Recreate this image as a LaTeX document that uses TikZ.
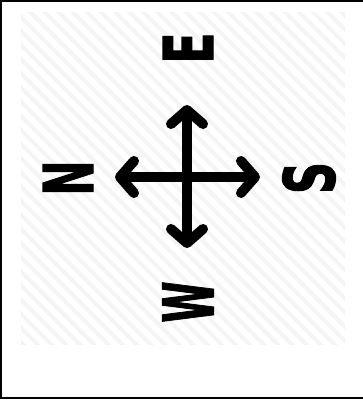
\documentclass[tikz,border=0pt]{standalone}
\usepackage{fontspec}
\setmainfont{DejaVu Sans}
\newfontfamily\heavyfont{DejaVu Sans Bold}[FakeBold=2]
\usepackage{graphicx}
\usetikzlibrary{arrows.meta,patterns.meta}

\begin{document}
\begin{tikzpicture}[x=1pt, y=-1pt,
    dir/.style={rotate=90, inner sep=0pt, font=\heavyfont},
    ray/.style={line width=10pt, -{Straight Barb[length=14pt, width=32pt, round]}}]
  \useasboundingbox (0,0) rectangle (363,406);
  \draw[line width=2pt] (364,1) -- (1,1) -- (1,398) -- (364,398);
  \fill[pattern={Lines[angle=-45, distance=10pt, line width=4pt]}, pattern color=gray!9]
    (21,13) rectangle (345,344);

  \coordinate (c) at (187,177);
  \coordinate (upEnd) at (187,105);
  \coordinate (downEnd) at (187,248);
  \coordinate (leftEnd) at (115,177);
  \coordinate (rightEnd) at (260,177);

  \node (east) [dir] at (188,48) {\resizebox{31pt}{50pt}{E}};
  \node (north) [dir] at (68,178) {\resizebox{35pt}{50pt}{N}};
  \node (south) [dir] at (309,178) {\resizebox{32pt}{52pt}{S}};
  \node (west) [dir] at (188,302) {\resizebox{41pt}{51pt}{W}};

  \draw[ray] (c) -- (upEnd);
  \draw[ray] (c) -- (downEnd);
  \draw[ray] (c) -- (leftEnd);
  \draw[ray] (c) -- (rightEnd);
\end{tikzpicture}
\end{document}
